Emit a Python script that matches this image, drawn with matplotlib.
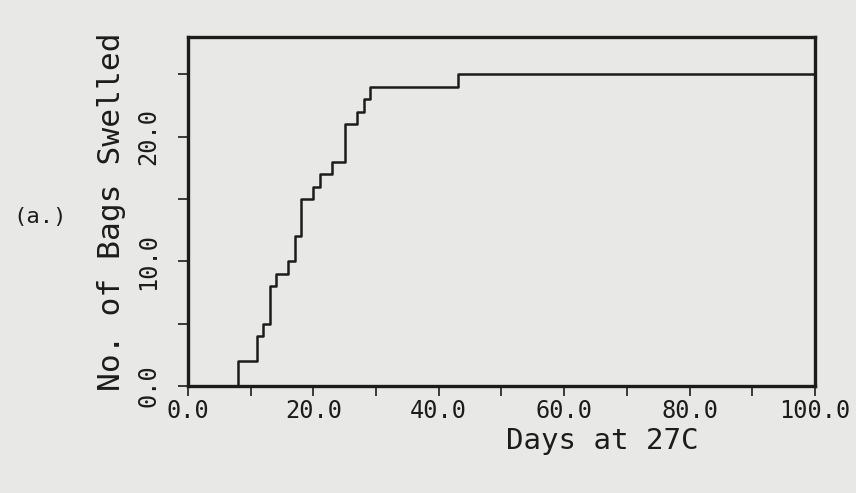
import matplotlib
matplotlib.use("Agg")
import matplotlib.pyplot as plt
from matplotlib.ticker import MultipleLocator, FormatStrFormatter

# Data: step times (days) and cumulative number of bags swelled after each step
step_days = [0, 8, 11, 12, 13, 14, 16, 17, 18, 20, 21, 23, 25, 27, 28, 29, 43, 100]
bags_swelled = [0, 2, 4, 5, 8, 9, 10, 12, 15, 16, 17, 18, 21, 22, 23, 24, 25, 25]

x_major = [0, 20, 40, 60, 80, 100]
y_major = [0, 10, 20]

bg = "#e8e8e6"
ink = "#1c1c1c"
font = "DejaVu Sans Mono"

fig = plt.figure(figsize=(8.56, 4.93), dpi=100, facecolor=bg)
ax = fig.add_axes([188/856, 1 - 386/493, (815-188)/856, (386-37)/493])
ax.set_facecolor(bg)

ax.step(step_days, bags_swelled, where="post", color=ink, lw=1.8)

ax.set_xlim(0, 100)
ax.set_ylim(0, 28)

ax.xaxis.set_major_locator(MultipleLocator(20))
ax.xaxis.set_minor_locator(MultipleLocator(10))
ax.yaxis.set_major_locator(MultipleLocator(10))
ax.yaxis.set_minor_locator(MultipleLocator(5))
ax.xaxis.set_major_formatter(FormatStrFormatter("%.1f"))
ax.yaxis.set_major_formatter(FormatStrFormatter("%.1f"))

for s in ax.spines.values():
    s.set_linewidth(2.4)
    s.set_color(ink)

ax.tick_params(which="both", direction="out", length=7, width=1.2, color=ink)
ax.tick_params(axis="x", which="major", pad=2, labelsize=17, labelcolor=ink)
ax.tick_params(axis="y", which="major", pad=13, labelsize=17, labelcolor=ink)
for lab in ax.get_xticklabels():
    lab.set_fontfamily(font)
for lab in ax.get_yticklabels():
    lab.set_fontfamily(font)
    lab.set_rotation(90)
    lab.set_verticalalignment("center")

ax.set_xlabel("Days at 27C", fontsize=21, family=font, color=ink)
ax.xaxis.set_label_coords(0.66, -0.158)
ax.xaxis.label.set_verticalalignment("center")

ax.set_ylabel("No. of Bags Swelled", fontsize=22.5, family=font, color=ink)
ax.yaxis.set_label_coords((112-188)/627, 0.5)
ax.yaxis.label.set_verticalalignment("center")

fig.text(40/856, 1 - 217/493, "(a.)", fontsize=16, family=font, color=ink,
         ha="center", va="center")

fig.savefig("out.png", dpi=100, facecolor=bg)
